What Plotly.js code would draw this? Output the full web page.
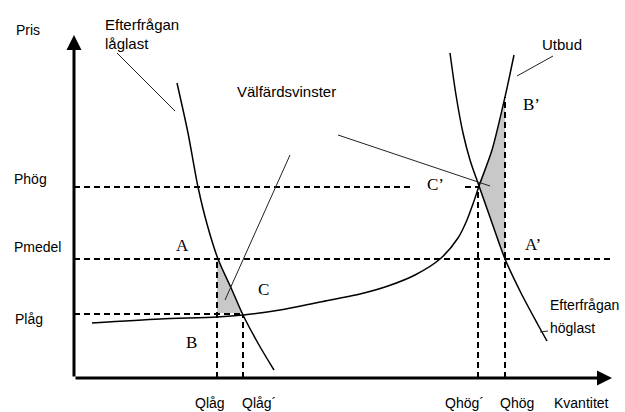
<!DOCTYPE html>
<html>
<head>
<meta charset="utf-8">
<script src="https://cdn.plot.ly/plotly-3.0.1.min.js"></script>
<style>html,body{margin:0;padding:0;background:#fff;}#chart{width:625px;height:412px;}</style>
</head>
<body>
<div id="chart"></div>
<script>
// Data coordinates: quantity (x) and price (y), origin at the axes corner
const demandLowQ = [103, 114, 124, 133, 144, 158, 169, 185, 200];
const demandLowP = [295, 245, 191, 154, 119, 88, 63, 33, 8];

const supplyQ = [18, 86, 143, 169, 206, 246, 286, 314, 341, 366, 384, 393, 400, 405, 418, 431, 440];
const supplyP = [55, 59, 61, 63, 68, 76, 84, 92, 103, 119, 140, 158, 177, 192, 228, 281, 323];

const demandHighQ = [376, 382, 389, 396, 405, 417, 431, 447, 463, 473];
const demandHighP = [325, 283, 245, 218, 192, 158, 119, 85, 55, 37];

// Welfare-gain areas
const gainLowQ = [143, 151, 158, 164, 168, 143, 143];
const gainLowP = [119, 104, 88, 75, 65, 65, 119];
const gainHighQ = [405, 411, 418, 425, 431, 431, 424, 417, 410, 405];
const gainHighP = [192, 208, 228, 253, 281, 119, 137, 158, 176, 192];

// Price and quantity levels
const priceNames = ['Phög', 'Pmedel', 'Plåg'];
const priceLevels = [191, 119, 64];
const priceLineEnds = [339, 539, 167];
const phogShortSeg = [391, 405];
const qtyNames = ['Qlåg', 'Qlåg´', 'Qhög´', 'Qhög'];
const qtyLevels = [143, 169, 404, 431];
const qtyLineTops = [119, 63, 192, 281];
const qtyLabelX = [119, 166, 369, 424];

// Pointer lines [q0, p0, q1, p1]
const pointerLowDemand = [43, 325, 101, 267];
const pointerGainLow = [151, 78, 216, 223];
const pointerGainHigh = [264, 243, 416, 192];
const pointerSupply = [443, 302, 479, 322];
const pointerHighDemand = [466, 46, 474, 47];

const axisMaxQ = 538;
const axisMaxP = 343;

const traces = [];
traces.push({x: gainLowQ, y: gainLowP, mode: 'lines', fill: 'toself', fillcolor: '#c8c8c8', line: {width: 0}, hoverinfo: 'skip'});
traces.push({x: gainHighQ, y: gainHighP, mode: 'lines', fill: 'toself', fillcolor: '#c8c8c8', line: {width: 0}, hoverinfo: 'skip'});

const dashStyle = {color: '#000', width: 2, dash: '6px,4px'};
priceLevels.forEach((p, i) => {
  traces.push({x: [0, priceLineEnds[i]], y: [p, p], mode: 'lines', line: dashStyle});
});
traces.push({x: phogShortSeg, y: [priceLevels[0], priceLevels[0]], mode: 'lines', line: dashStyle});
qtyLevels.forEach((q, i) => {
  traces.push({x: [q, q], y: [0, qtyLineTops[i]], mode: 'lines', line: dashStyle});
});

const curveStyle = {color: '#000', width: 1.5, shape: 'spline', smoothing: 0.8};
traces.push({x: demandLowQ, y: demandLowP, mode: 'lines', line: curveStyle});
traces.push({x: supplyQ, y: supplyP, mode: 'lines', line: curveStyle});
traces.push({x: demandHighQ, y: demandHighP, mode: 'lines', line: curveStyle});

[pointerLowDemand, pointerGainLow, pointerGainHigh, pointerSupply, pointerHighDemand].forEach(pt => {
  traces.push({x: [pt[0], pt[2]], y: [pt[1], pt[3]], mode: 'lines', line: {color: '#222', width: 1}});
});

const sans = 'Liberation Sans, Arial, sans-serif';
const serif = 'Liberation Serif, Times New Roman, serif';
function txt(t, x, y, size, anchor, font) {
  return {text: t, x: x, y: y, xref: 'x', yref: 'y', showarrow: false, xanchor: anchor || 'left', yanchor: 'middle',
    font: {family: font || sans, size: size || 14, color: '#000'}};
}
const annotations = [
  // axes with arrowheads
  {x: 0, y: axisMaxP, ax: 0, ay: 0, xref: 'x', yref: 'y', axref: 'x', ayref: 'y', showarrow: true, arrowhead: 2, arrowsize: 1, arrowwidth: 3, arrowcolor: '#000', standoff: 0, startstandoff: 0, text: ''},
  {x: axisMaxQ, y: 0, ax: 0, ay: 0, xref: 'x', yref: 'y', axref: 'x', ayref: 'y', showarrow: true, arrowhead: 2, arrowsize: 1, arrowwidth: 3, arrowcolor: '#000', standoff: 0, startstandoff: 0, text: ''},
  txt('Pris', -60, 348, 14),
  txt('Efterfrågan', 29, 354, 15),
  txt('låglast', 29, 335, 15),
  txt('Välfärdsvinster', 161, 287, 15),
  txt('Utbud', 466, 334, 15),
  txt(priceNames[0], -62, 199, 14),
  txt(priceNames[1], -62, 131, 14),
  txt(priceNames[2], -61, 59, 14),
  txt('Efterfrågan', 474, 73, 14),
  txt('höglast', 474, 50, 14),
  txt('Kvantitet', 478, -25, 14),
  txt('A', 108, 133, 17, 'center', serif),
  txt('B', 117, 36, 17, 'center', serif),
  txt('C', 189, 89, 17, 'center', serif),
  txt('C’', 361, 194, 17, 'center', serif),
  txt('A’', 459, 134, 17, 'center', serif),
  txt('B’', 457, 274, 17, 'center', serif)
];
qtyNames.forEach((n, i) => annotations.push(txt(n, qtyLabelX[i], -25, 14)));

const layout = {
  width: 625, height: 412,
  margin: {l: 0, r: 0, t: 0, b: 0},
  paper_bgcolor: '#fff', plot_bgcolor: '#fff',
  showlegend: false,
  xaxis: {range: [-74, 551], visible: false, fixedrange: true},
  yaxis: {range: [-34, 378], visible: false, fixedrange: true},
  annotations: annotations
};
Plotly.newPlot('chart', traces, layout, {staticPlot: true});
</script>
</body>
</html>
